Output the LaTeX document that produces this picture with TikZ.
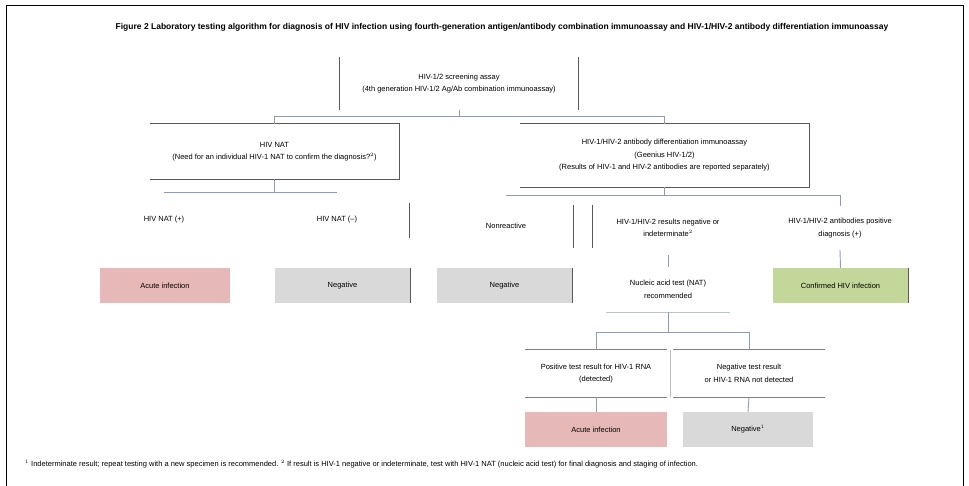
\documentclass[tikz,border=0pt]{standalone}
\usepackage{fontspec}
\setmainfont{Liberation Sans}
\usetikzlibrary{calc}
\definecolor{pinkfill}{HTML}{E6B9B8}
\definecolor{grayfill}{HTML}{D9D9D9}
\definecolor{greenfill}{HTML}{C4D79B}
\definecolor{bordc}{HTML}{595959}
\definecolor{connc}{HTML}{8E9CB2}
\definecolor{cellc}{HTML}{808080}
\begin{document}
\begin{tikzpicture}[x=1pt,y=-1pt,
  every node/.style={font=\fontsize{7.5}{12.5}\selectfont, inner sep=0pt, align=center},
  res/.style={minimum height=35pt, minimum width=#1},
  bord/.style={draw=bordc, line width=1.3pt},
  conn/.style={draw=connc, line width=0.9pt},
  cell/.style={draw=cellc, line width=1pt}]
\useasboundingbox (0,0) rectangle (969,486);
\draw[line width=1pt] (6,486) -- (6,6) -- (963,6) -- (963,486);

% title
\node[font=\fontsize{8.5}{10}\selectfont\bfseries] (title) at (502,27) {Figure 2 Laboratory testing algorithm for diagnosis of HIV infection using fourth-generation antigen/antibody combination immunoassay and HIV-1/HIV-2 antibody differentiation immunoassay};

% top box
\node[minimum width=238pt, minimum height=53pt] (top) at (459,83.5) {HIV-1/2 screening assay\\(4th generation HIV-1/2 Ag/Ab combination immunoassay)};
\draw[bord] (top.north west) -- (top.south west);
\draw[bord] (top.north east) -- (top.south east);

% second level
\node[minimum width=249pt, minimum height=55pt] (A) at (274.5,151.5) {HIV NAT\\(Need for an individual HIV-1 NAT to confirm the diagnosis?$^{2}$)};
\draw[bord] (A.north west) -- (A.north east) -- (A.south east) -- (A.south west);
\node[minimum width=289pt, minimum height=63pt] (B) at (664.5,155.5) {HIV-1/HIV-2 antibody differentiation immunoassay\\(Geenius HIV-1/2)\\(Results of HIV-1 and HIV-2 antibodies are reported separately)};
\draw[bord] (B.north west) -- (B.north east) -- (B.south east) -- (B.south west);

\draw[conn] (top.south) -- ++(0,6) coordinate (s1);
\draw[conn] (A.north) |- (s1) -| (B.north);

% children of A
\node (A1) at (164,220) {HIV NAT (+)};
\node (A2) at (337,220) {HIV NAT (--)};
\draw[conn] (A.south) -- ++(0,13) coordinate (s2);
\draw[conn] (s2 -| A1.north) -- (s2 -| A2.north);
\coordinate (a2r) at (409,203);
\draw[bord, line width=1pt] (a2r) -- ++(0,35);

% children of B
\node (N) at (506,226) {Nonreactive};
\node[minimum height=54pt] (M) at (668,228) {HIV-1/HIV-2 results negative or\\indeterminate$^{2}$};
\node[minimum height=44pt] (R) at (840,228) {HIV-1/HIV-2 antibodies positive\\diagnosis (+)};
\draw[conn] (B.south) -- ++(0,8) coordinate (s3);
\draw[conn] (s3 -| N.north) -- (s3 -| R.north) -- (R.north);
\coordinate (nr) at (573,205);
\coordinate (ml) at (592,205);
\draw[bord, line width=1pt] (nr) -- ++(0,43);
\draw[bord, line width=1pt] (ml) -- ++(0,43);

% results row
\node[res=130pt, fill=pinkfill] (P1) at (165,285.5) {Acute infection};
\node[res=135pt, fill=grayfill] (G1) at (342.5,285.5) {Negative};
\draw[bord, line width=1pt] (G1.north east) -- (G1.south east);
\node[res=135pt, fill=grayfill] (G2) at (504.5,285.5) {Negative};
\draw[bord, line width=1pt] (G2.north east) -- (G2.south east);
\node[res=135pt, fill=greenfill] (GR) at (840.5,285.5) {Confirmed HIV infection};
\draw[bord, line width=1pt] (GR.north east) -- (GR.south east);
\draw[conn] (R.south) -- (GR.north);

% NAT recommended
\node[minimum width=124pt, minimum height=45pt] (Q) at (668,289.5) {Nucleic acid test (NAT)\\recommended};
\draw[draw=connc!60, line width=0.8pt] (Q.south west) -- (Q.south east);
\draw[conn] (M.south) -- (Q.north);

% lower split
\node[minimum width=142pt, minimum height=47pt] (L1) at (596,373.5) {Positive test result for HIV-1 RNA\\(detected)};
\node[minimum width=152pt, minimum height=47pt] (L2) at (749,373.5) {Negative test result\\or HIV-1 RNA not detected};
\draw[cell] (L1.north west) -- (L1.north east);
\draw[cell] (L1.south west) -- (L1.south east);
\draw[cell] (L2.north west) -- (L2.north east);
\draw[cell] (L2.south west) -- (L2.south east);
\draw[draw=cellc!50, line width=0.8pt] ($(L1.north east)!0.5!(L2.north west)$) -- ($(L1.south east)!0.5!(L2.south west)$);
\draw[conn] (Q.south) -- ++(0,20) coordinate (s4);
\draw[conn] (L1.north) |- (s4) -| (L2.north);

\node[res=142pt, fill=pinkfill] (P2) at (596,429.5) {Acute infection};
\node[res=130pt, fill=grayfill] (G3) at (748,429.5) {Negative$^{1}$};
\draw[conn] (L1.south) -- (P2.north);
\draw[conn] (L2.south) -- (G3.north);

% footnote
\node[anchor=west, font=\fontsize{7.5}{9}\selectfont] (fn) at (25,464) {$^{1}$ Indeterminate result; repeat testing with a new specimen is recommended. $^{2}$ If result is HIV-1 negative or indeterminate, test with HIV-1 NAT (nucleic acid test) for final diagnosis and staging of infection.};
\end{tikzpicture}
\end{document}
